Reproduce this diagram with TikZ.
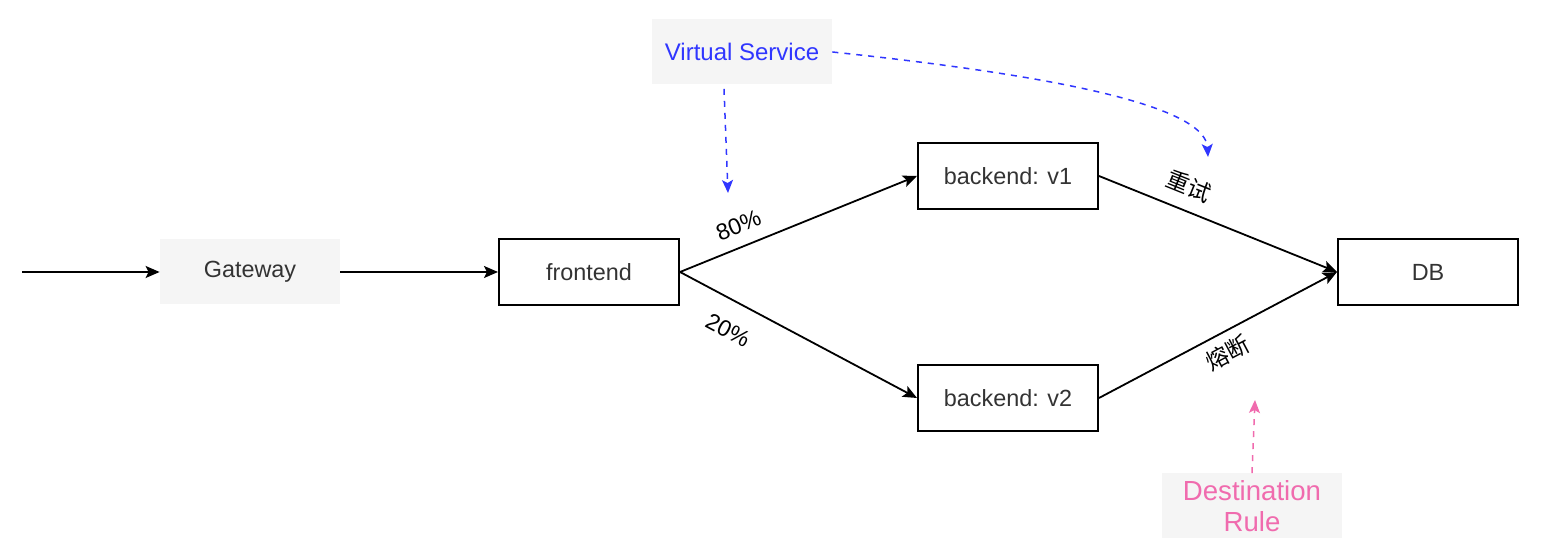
\documentclass[tikz,border=0pt]{standalone}
\usepackage{fontspec}
\setmainfont{Liberation Sans}
\newfontfamily\cjk{Noto Sans CJK SC}
\usetikzlibrary{arrows.meta,positioning}
\definecolor{txtgray}{HTML}{333333}
\definecolor{cfgfill}{HTML}{F5F5F5}
\definecolor{vsblue}{HTML}{3036FF}
\definecolor{drpink}{HTML}{F06BAE}

\begin{document}
\begin{tikzpicture}[x=0.5pt,y=-0.5pt,>=Stealth,
 svc/.style={draw,line width=1pt,minimum width=90pt,minimum height=33pt,inner sep=0pt,text=txtgray,font=\fontsize{11.7}{13}\selectfont},
 cfg/.style={fill=cfgfill,minimum width=90pt,minimum height=32.5pt,inner sep=0pt,align=center},
 lbl/.style={sloped,font=\fontsize{11.5}{13}\selectfont,inner sep=3pt},
 zh/.style={lbl,font=\cjk\fontsize{11.5}{13}\selectfont},
 a/.style={-{Stealth[length=7pt,width=6pt,inset=1.5pt]},line width=0.9pt},
 vsa/.style={-{Stealth[length=6.5pt,width=5.5pt,inset=1.5pt]},line width=0.75pt,dash pattern=on 3pt off 3pt,vsblue},
 dra/.style={-{Stealth[length=6.5pt,width=5.5pt,inset=1.5pt]},line width=0.75pt,dash pattern=on 3pt off 3pt,drpink}]
\useasboundingbox (0,0) rectangle (1544,560);

\node[cfg,text=txtgray,font=\fontsize{11.7}{13}\selectfont] (gw) at (250,272) {Gateway};
\node[svc] (fe) at (589,272) {frontend};
\node[svc] (v1) at (1008,176) {backend: v1};
\node[svc] (v2) at (1008,398) {backend: v2};
\node[svc] (db) at (1428,272) {DB};
\node[cfg,text=vsblue,font=\fontsize{12}{14}\selectfont] (vs) at (742,52) {Virtual Service};
\node[cfg,text=drpink,font=\fontsize{13.8}{15.5}\selectfont] (dr) at (1252,506) {Destination\\Rule};

\coordinate (in) at (22,272);
\coordinate (vsend) at (728,193);
\coordinate (vsend2) at (1208,157);
\coordinate (drend) at (1255,400);

% main traffic
\draw[a] (in) -- (gw);
\draw[a] (gw) -- (fe);
\draw[a] (fe.east) -- node[lbl,pos=0.28,above=3pt]{80\%} (v1.west);
\draw[a] (fe.east) -- node[lbl,pos=0.26,below=7pt]{20\%} (v2.west);
\draw[a] (v1.east) -- node[zh,pos=0.34,above=3.5pt]{重试} (db.west);
\draw[a] (v2.east) -- node[zh,pos=0.5,below=1.5pt]{熔断} (db.west);

% config
\draw[vsa] ([xshift=-9pt,yshift=-2pt]vs.south) -- (vsend);
\draw[vsa] (vs.east) .. controls (1050,75) and (1205,105) .. (vsend2);
\draw[dra] (dr.north) -- (drend);
\end{tikzpicture}
\end{document}
